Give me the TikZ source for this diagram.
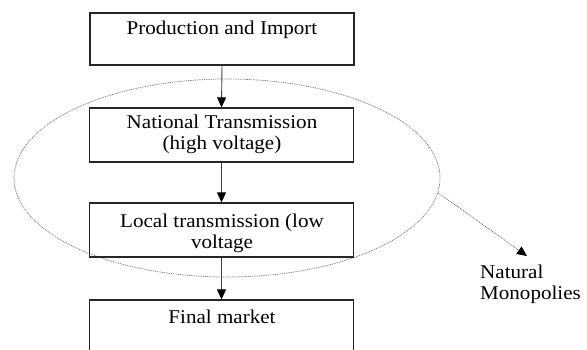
\documentclass[tikz,border=0pt]{standalone}
\usepackage{fontspec}
\setmainfont{Liberation Serif}[FakeStretch=1.08]
\usetikzlibrary{shapes.geometric,arrows.meta}
\begin{document}
\begin{tikzpicture}[x=1pt,y=-1pt,
  box/.style={draw=black!85,line width=1.3pt,minimum width=264pt,inner sep=0pt},
  lbl/.style={font=\fontsize{19.5}{21}\selectfont,inner sep=0pt,anchor=base,align=center,text=black},
  flow/.style={draw=black!75,line width=0.9pt,-{Triangle[width=9pt,length=10pt,color=black]}},
  ring/.style={draw=black!55,line width=0.75pt,dash pattern=on 0.9pt off 0.9pt,ellipse,inner sep=0pt},
  link/.style={draw=black!60,line width=0.75pt,dash pattern=on 0.9pt off 0.9pt,-{Triangle[width=9pt,length=10pt,color=black]}}]
\clip (0,0) rectangle (587,349);
\fill[white] (0,0) rectangle (587,349);
% ellipse
\node[ring,minimum width=426pt,minimum height=198pt] (e) at (227,178) {};
% boxes
\node[box,minimum height=52pt] (b1) at (222,39) {};
\node[box,minimum height=54pt] (b2) at (221.5,135) {};
\node[box,minimum height=54pt] (b3) at (221.5,230) {};
\node[box,minimum height=70pt] (b4) at (221.5,335) {};
% labels (base = baseline of last line)
\node[lbl] (t1) at (222,34) {Production and Import};
\node[lbl] (t2) at (222,149) {National Transmission\\(high voltage)};
\node[lbl] (t3) at (222,248) {Local transmission (low\\voltage};
\node[lbl] (t4) at (222,323) {Final market};
\node[lbl,align=left,anchor=base west] (nm) at (480,299) {Natural\\Monopolies};
% connectors
\draw[flow] (b1.south) -- (b2.north);
\draw[flow] (b2.south) -- (b3.north);
\draw[flow] (b3.south) -- (b4.north);
\coordinate (tip) at (527,256);
\draw[link] (e.-4) -- (tip);
\end{tikzpicture}
\end{document}
